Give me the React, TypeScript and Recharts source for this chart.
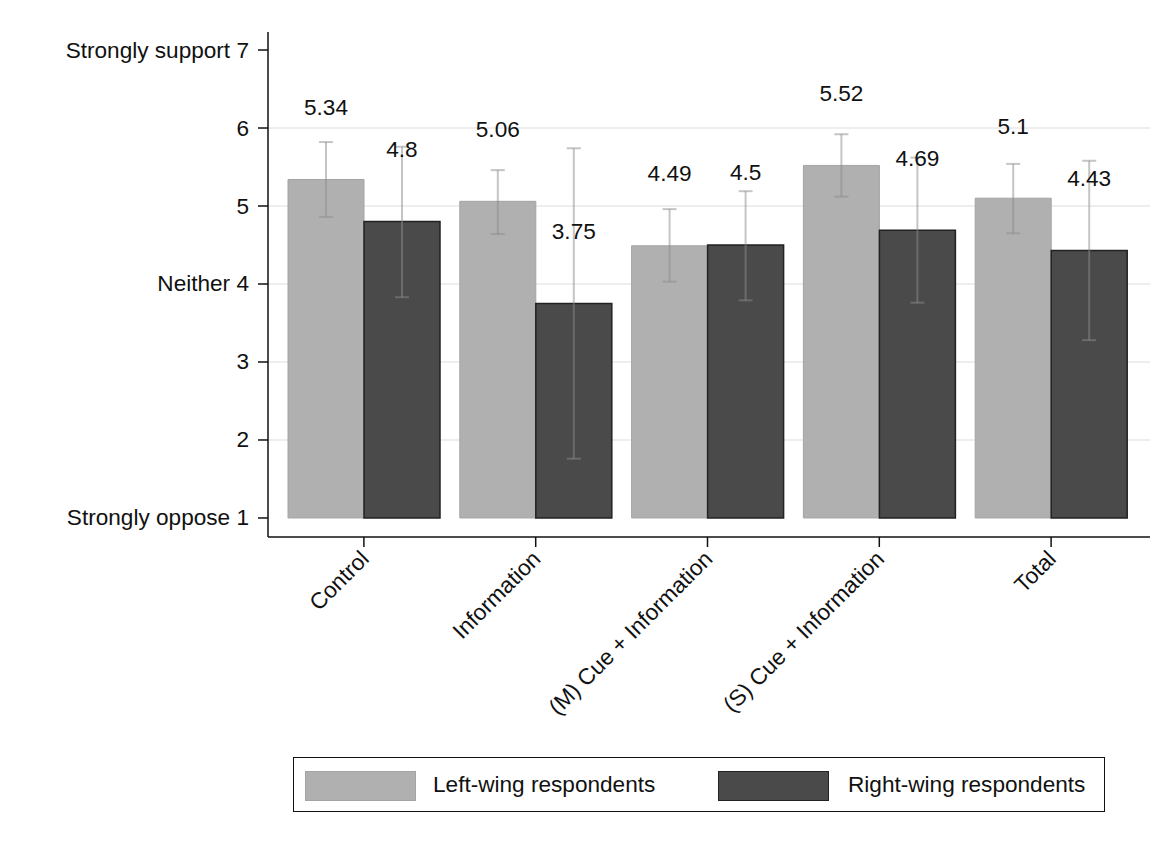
import React from 'react'
import { BarChart, Bar, XAxis, YAxis, CartesianGrid, ErrorBar, LabelList, Legend } from 'recharts'

const categories = ['Control', 'Information', '(M) Cue + Information', '(S) Cue + Information', 'Total']
const leftMeans = [5.34, 5.06, 4.49, 5.52, 5.1]
const leftLow = [4.86, 4.64, 4.03, 5.12, 4.65]
const leftHigh = [5.82, 5.46, 4.96, 5.92, 5.54]
const rightMeans = [4.8, 3.75, 4.5, 4.69, 4.43]
const rightLow = [3.83, 1.76, 3.79, 3.76, 3.28]
const rightHigh = [5.76, 5.74, 5.19, 5.62, 5.58]
const seriesNames = ['Left-wing respondents', 'Right-wing respondents']
const yTicks = [1, 2, 3, 4, 5, 6, 7]
const yTickLabels: Record<number, string> = { 7: 'Strongly support 7', 4: 'Neither 4', 1: 'Strongly oppose 1' }
const BASE = 1

const FONT = '"Liberation Sans", Arial, Helvetica, sans-serif'
const FS = 22.6
const LIGHT = '#b0b0b0'
const DARK = '#4a4a4a'
const ERR = 'rgba(140,140,140,0.5)'

const data = categories.map((name, i) => ({
  name,
  left: leftMeans[i],
  right: rightMeans[i],
  leftErr: [leftMeans[i] - leftLow[i], leftHigh[i] - leftMeans[i]],
  rightErr: [rightMeans[i] - rightLow[i], rightHigh[i] - rightMeans[i]],
}))

const YTick = ({ x, y, payload }: any) => (
  <text x={x} y={y} textAnchor="end" dominantBaseline="central" fontSize={FS} fill="#111" fontFamily={FONT}>
    {yTickLabels[payload.value] ?? payload.value}
  </text>
)

const XTick = ({ x, y, payload }: any) => (
  <text
    x={x + 1}
    y={y + 8}
    transform={`rotate(-45 ${x + 1} ${y + 8})`}
    textAnchor="end"
    dominantBaseline="central"
    fontSize={FS}
    fill="#111"
    fontFamily={FONT}
  >
    {payload.value}
  </text>
)

const ValueLabel = ({ x, y, width, value }: any) => (
  <text x={x + width / 2} y={y - 72} textAnchor="middle" dominantBaseline="central" fontSize={FS} fill="#111" fontFamily={FONT}>
    {value}
  </text>
)

const LegendBox = () => (
  <div
    style={{
      position: 'relative',
      width: 812,
      height: 55,
      border: '1.5px solid #111',
      boxSizing: 'border-box',
      fontFamily: FONT,
      fontSize: FS,
      color: '#111',
    }}
  >
    <span style={{ position: 'absolute', left: 11, top: 13, width: 111, height: 30, background: LIGHT, border: '1px solid #a4a4a4', boxSizing: 'border-box' }} />
    <span style={{ position: 'absolute', left: 139, top: 12, lineHeight: '30px' }}>{seriesNames[0]}</span>
    <span style={{ position: 'absolute', left: 424, top: 13, width: 111, height: 30, background: DARK, border: '1.5px solid #222', boxSizing: 'border-box' }} />
    <span style={{ position: 'absolute', left: 554, top: 12, lineHeight: '30px' }}>{seriesNames[1]}</span>
  </div>
)

export default function App() {
  return (
    <div style={{ margin: -8, width: 1175, height: 852, position: 'relative', background: '#fff' }}>
      <BarChart
        width={1175}
        height={852}
        data={data}
        margin={{ top: 32, right: 25, bottom: 0, left: 0 }}
        barGap={0}
        barSize={76}
      >
        <CartesianGrid horizontal vertical={false} stroke="#eeeeee" strokeWidth={2} horizontalValues={[2, 3, 4, 5, 6]} />
        <XAxis
          dataKey="name"
          height={315}
          padding={{ left: 10, right: 13 }}
          tickSize={10}
          tickMargin={0}
          stroke="#111"
          strokeWidth={1.5}
          interval={0}
          tick={<XTick />}
        />
        <YAxis
          type="number"
          width={268}
          domain={[0.756, 7.231]}
          allowDataOverflow
          ticks={yTicks}
          tickSize={10}
          tickMargin={9}
          stroke="#111"
          strokeWidth={1.5}
          tick={<YTick />}
        />
        <Legend
          layout="horizontal"
          verticalAlign="middle"
          align="center"
          wrapperStyle={{ top: 757, left: 293, width: 812, height: 55 }}
          content={<LegendBox />}
        />
        <Bar dataKey={(d: any) => [BASE, d.left]} name={seriesNames[0]} fill={LIGHT} stroke="#a4a4a4" strokeWidth={1} isAnimationActive={false}>
          <ErrorBar dataKey="leftErr" width={7} stroke={ERR} strokeWidth={2} direction="y" />
          <LabelList dataKey="left" content={<ValueLabel />} />
        </Bar>
        <Bar dataKey={(d: any) => [BASE, d.right]} name={seriesNames[1]} fill={DARK} stroke="#222" strokeWidth={1.5} isAnimationActive={false}>
          <ErrorBar dataKey="rightErr" width={7} stroke={ERR} strokeWidth={2} direction="y" />
          <LabelList dataKey="right" content={<ValueLabel />} />
        </Bar>
      </BarChart>
      <div
        style={{
          position: 'absolute',
          left: 4,
          top: 4,
          width: 1164,
          height: 842,
          border: '2px solid #d8e2e7',
          pointerEvents: 'none',
          zIndex: 2,
        }}
      />
    </div>
  )
}
